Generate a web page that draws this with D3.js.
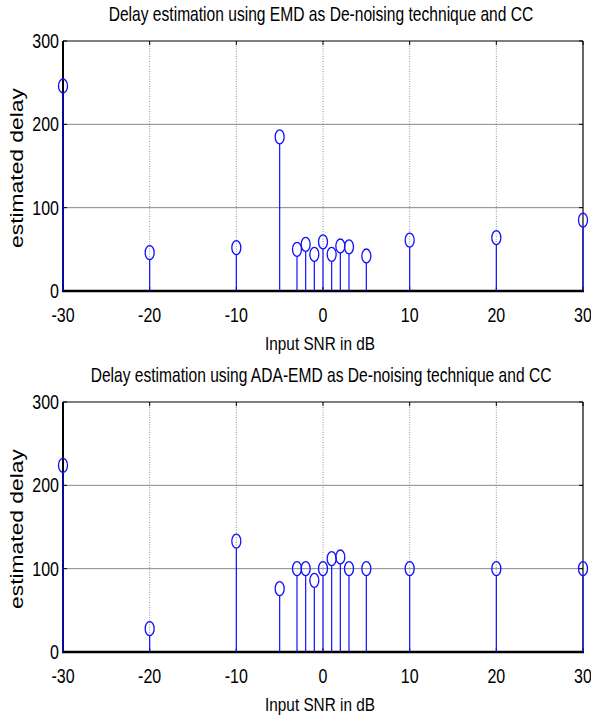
<!DOCTYPE html>
<meta charset="utf-8">
<head>
<script src="https://d3js.org/d3.v7.min.js"></script>
<style>
  body { margin: 0; background: #fff; }
  text { font-family: "Liberation Sans", Arial, sans-serif; fill: #000; }
</style>
</head>
<body>
<div id="chart"></div>
<script>
// input SNR values (dB)
var snr = [-30, -20, -10, -5, -3, -2, -1, 0, 1, 2, 3, 5, 10, 20, 30];
// estimated delay, EMD de-noising
var emdDelay = [246, 46, 52, 185, 50, 56, 44, 59, 44, 54, 53, 42, 61, 64, 85];
// estimated delay, ADA-EMD de-noising
var adaDelay = [224, 28, 133, 76, 100, 100, 86, 100, 112, 114, 100, 100, 100, 100, 100];
var xTicks = [-30, -20, -10, 0, 10, 20, 30];
var yTicks = [0, 100, 200, 300];

var titles = [
  "Delay estimation using EMD as De-noising technique and CC",
  "Delay estimation using ADA-EMD as De-noising technique and CC"
];
var titleWidths = [425, 461];

var W = 591, H = 722;
var svg = d3.select("#chart").append("svg")
  .attr("width", W)
  .attr("height", H);

var left = 63, right = 583, plotH = 250;
var tops = [41, 402];
var narrow = 0.8; // matlab's condensed helvetica look

var x = d3.scaleLinear().domain([-30, 30]).range([left, right]);

// squeeze a text horizontally so it takes the given width
function fitText(sel, cx, cy, w, rot) {
  var len = sel.node().getComputedTextLength();
  var s = w / len;
  sel.attr("transform", "translate(" + cx + "," + cy + ")" + (rot ? " rotate(" + rot + ")" : "") + " scale(" + s + ",1)");
}

function drawPanel(top, data, title, tw) {
  var y = d3.scaleLinear().domain([0, 300]).range([top + plotH, top]);
  var g = svg.append("g");

  // grid
  g.selectAll(".vgrid").data(xTicks.filter(function(d) { return d > -30 && d < 30; }))
    .enter().append("line")
    .attr("x1", function(d) { return x(d); })
    .attr("x2", function(d) { return x(d); })
    .attr("y1", top).attr("y2", top + plotH)
    .attr("stroke", "#777").attr("stroke-width", 0.8)
    .attr("stroke-dasharray", "1,1.5");
  g.selectAll(".hgrid").data(yTicks.filter(function(d) { return d > 0 && d < 300; }))
    .enter().append("line")
    .attr("x1", left).attr("x2", right)
    .attr("y1", function(d) { return y(d); })
    .attr("y2", function(d) { return y(d); })
    .attr("stroke", "#888").attr("stroke-width", 1);

  // inward ticks
  xTicks.forEach(function(d) {
    g.append("line").attr("x1", x(d)).attr("x2", x(d))
      .attr("y1", top).attr("y2", top + 4).attr("stroke", "#000");
    g.append("line").attr("x1", x(d)).attr("x2", x(d))
      .attr("y1", top + plotH).attr("y2", top + plotH - 4).attr("stroke", "#000");
  });
  yTicks.forEach(function(d) {
    g.append("line").attr("x1", left).attr("x2", left + 4)
      .attr("y1", y(d)).attr("y2", y(d)).attr("stroke", "#000");
    g.append("line").attr("x1", right).attr("x2", right - 4)
      .attr("y1", y(d)).attr("y2", y(d)).attr("stroke", "#000");
  });

  // box
  g.append("line").attr("x1", left).attr("x2", right).attr("y1", top).attr("y2", top)
    .attr("stroke", "#000").attr("stroke-width", 1.2);
  g.append("line").attr("x1", right).attr("x2", right).attr("y1", top).attr("y2", top + plotH)
    .attr("stroke", "#000").attr("stroke-width", 1.2);
  g.append("line").attr("x1", left).attr("x2", left).attr("y1", top).attr("y2", top + plotH + 1)
    .attr("stroke", "#000").attr("stroke-width", 2);
  g.append("line").attr("x1", left - 1).attr("x2", right + 1).attr("y1", top + plotH).attr("y2", top + plotH)
    .attr("stroke", "#000").attr("stroke-width", 2.5);

  // stems
  g.selectAll(".stem").data(data).enter().append("line")
    .attr("x1", function(d, i) { return x(snr[i]); })
    .attr("x2", function(d, i) { return x(snr[i]); })
    .attr("y1", y(0))
    .attr("y2", function(d) { return y(d) + 7; })
    .attr("stroke", "#1010ff").attr("stroke-width", 1.2);
  g.selectAll(".mark").data(data).enter().append("ellipse")
    .attr("cx", function(d, i) { return x(snr[i]); })
    .attr("cy", function(d) { return y(d); })
    .attr("rx", 4.5).attr("ry", 7)
    .attr("fill", "none").attr("stroke", "#1010ff").attr("stroke-width", 1.3);

  // tick labels
  g.selectAll(".xl").data(xTicks).enter().append("text")
    .attr("transform", function(d) { return "translate(" + x(d) + "," + (top + plotH + 31) + ") scale(" + narrow + ",1)"; })
    .attr("text-anchor", "middle")
    .attr("font-size", 20)
    .text(function(d) { return d; });
  g.selectAll(".yl").data(yTicks).enter().append("text")
    .attr("transform", function(d) { return "translate(" + (left - 4) + "," + (y(d) + 7) + ") scale(" + narrow + ",1)"; })
    .attr("text-anchor", "end")
    .attr("font-size", 20)
    .text(function(d) { return d; });

  // labels
  var xl = g.append("text")
    .attr("text-anchor", "middle").attr("font-size", 19)
    .text("Input SNR in dB");
  fitText(xl, 320, top + plotH + 59, 110);
  var yl = g.append("text")
    .attr("text-anchor", "middle").attr("font-size", 18)
    .text("estimated delay");
  fitText(yl, 23, top + 127, 160, -90);
  var tt = g.append("text")
    .attr("text-anchor", "middle").attr("font-size", 20)
    .text(title);
  fitText(tt, 321, top - 20, tw);
}

drawPanel(tops[0], emdDelay, titles[0], titleWidths[0]);
drawPanel(tops[1], adaDelay, titles[1], titleWidths[1]);
</script>
</body>
